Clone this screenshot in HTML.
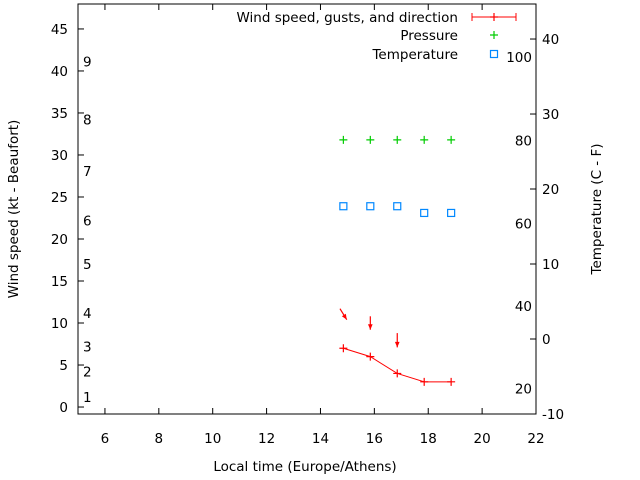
<!DOCTYPE html>
<html><head><meta charset="utf-8"><style>
body{margin:0;background:#fff}
svg{display:block;font-family:"DejaVu Sans","Liberation Sans",sans-serif;font-size:13.5px}
</style></head><body>
<svg id="c" width="640" height="480"></svg>
<script>
const times=[14.85,15.85,16.85,17.85,18.85];
const wind=[7,6,4,3,3];
const pressure=[31.8,31.8,31.8,31.8,31.8];
const temperature=[23.9,23.9,23.9,23.1,23.1];
const arrowTimes=[14.85,15.85,16.85];
const arrowTop=[11.7,10.8,8.8];
const arrowBottom=[10.4,9.2,7.1];
const arrowDx=[0.17,0,0];
const xTicks=[6,8,10,12,14,16,18,20,22];
const yTicks=[0,5,10,15,20,25,30,35,40,45];
const y2Ticks=[-10,0,10,20,30,40];
const beaufort=[[1,1.2],[2,4.2],[3,7.2],[4,11.2],[5,17],[6,22.2],[7,28.1],[8,34.2],[9,41.1]];
const fahr=[[100,37.6],[80,26.5],[60,15.4],[40,4.4],[20,-6.6]];
const L=78,R=536,T=4,B=414;
const X=v=>L+(v-5)*(R-L)/17;
const Y=v=>B-(v+0.83)*(B-T)/48.8;
const Y2=v=>B-(v+10)*(B-T)/54.67;
const svg=document.getElementById('c');const NS='http://www.w3.org/2000/svg';
function mk(t,a,p){const e=document.createElementNS(NS,t);for(const k in a)e.setAttribute(k,a[k]);(p||svg).appendChild(e);return e;}
const frame=mk('rect',{x:L,y:T,width:R-L,height:B-T,fill:'none',stroke:'#000'});


xTicks.forEach(v=>{const x=X(v);mk('line',{x1:x,x2:x,y1:B,y2:B-6,stroke:'#000'});mk('line',{x1:x,x2:x,y1:T,y2:T+6,stroke:'#000'});
const t=mk('text',{x:x,y:B+29,'text-anchor':'middle'});t.textContent=v;

});
yTicks.forEach(v=>{const y=Y(v);mk('line',{x1:L,x2:L+6,y1:y,y2:y,stroke:'#000'});
const t=mk('text',{x:L-10,y:y+5,'text-anchor':'end'});t.textContent=v;

});
y2Ticks.forEach(v=>{const y=Y2(v);mk('line',{x1:R,x2:R-6,y1:y,y2:y,stroke:'#000'});
const t=mk('text',{x:R+6,y:y+5});t.textContent=v;

});
beaufort.forEach(([b,v])=>{const t=mk('text',{x:83,y:Y(v)+5});t.textContent=b;

});
fahr.forEach(([f,v])=>{const t=mk('text',{x:532,y:Y2(v)+5,'text-anchor':'end'});t.textContent=f;

});
function plus(x,y,c,p){mk('path',{d:`M${x-4} ${y}h8M${x} ${y-4}v8`,stroke:c,'stroke-width':1.2},p);}
const wl=mk('polyline',{points:times.map((t,i)=>X(t)+','+Y(wind[i])).join(' '),fill:'none',stroke:'#f00'});


times.forEach((t,i)=>plus(X(t),Y(wind[i]),'#f00'));
arrowTimes.forEach((t,i)=>{const x1=X(t)-arrowDx[i]*20,y1=Y(arrowTop[i]),x2=X(t)+arrowDx[i]*20,y2=Y(arrowBottom[i]);
const g=mk('g',{});
mk('line',{x1:x1,y1:y1,x2:x2,y2:y2,stroke:'#f00','stroke-width':1.2},g);
const a=Math.atan2(y2-y1,x2-x1);const p=s=>[x2-6*Math.cos(a+s),y2-6*Math.sin(a+s)];
mk('polygon',{points:`${x2},${y2} ${p(0.4)} ${p(-0.4)}`,fill:'#f00'},g);});
times.forEach((t,i)=>{const g=mk('g',{});plus(X(t),Y(pressure[i]),'#0c0',g);});
times.forEach((t,i)=>{const r=mk('rect',{x:X(t)-3.5,y:Y(temperature[i])-3.5,width:7,height:7,fill:'none',stroke:'#08f','stroke-width':1.2});

});
[['Wind speed, gusts, and direction',17,'#f00'],['Pressure',35,'#0c0'],['Temperature',54,'#08f']].forEach(([s,y,c],i)=>{
const g=mk('g',{});
const t=mk('text',{x:458,y:y+5,'text-anchor':'end'},g);t.textContent=s;
if(i==0){mk('path',{d:`M472 ${y}h44M472 ${y-4}v8M516 ${y-4}v8`,stroke:c},g);plus(494,y,c,g);}
else if(i==1)plus(494,y,c,g);else mk('rect',{x:490.5,y:y-3.5,width:7,height:7,fill:'none',stroke:c,'stroke-width':1.2},g);});
const xt=mk('text',{x:305,y:471,'text-anchor':'middle'});xt.textContent='Local time (Europe/Athens)';


const yt=mk('text',{x:0,y:0,'text-anchor':'middle',transform:'translate(18,209) rotate(-90)'});yt.textContent='Wind speed (kt - Beaufort)';


const y2t=mk('text',{x:0,y:0,'text-anchor':'middle',transform:'translate(601,209) rotate(-90)'});y2t.textContent='Temperature (C - F)';


</script></body></html>
